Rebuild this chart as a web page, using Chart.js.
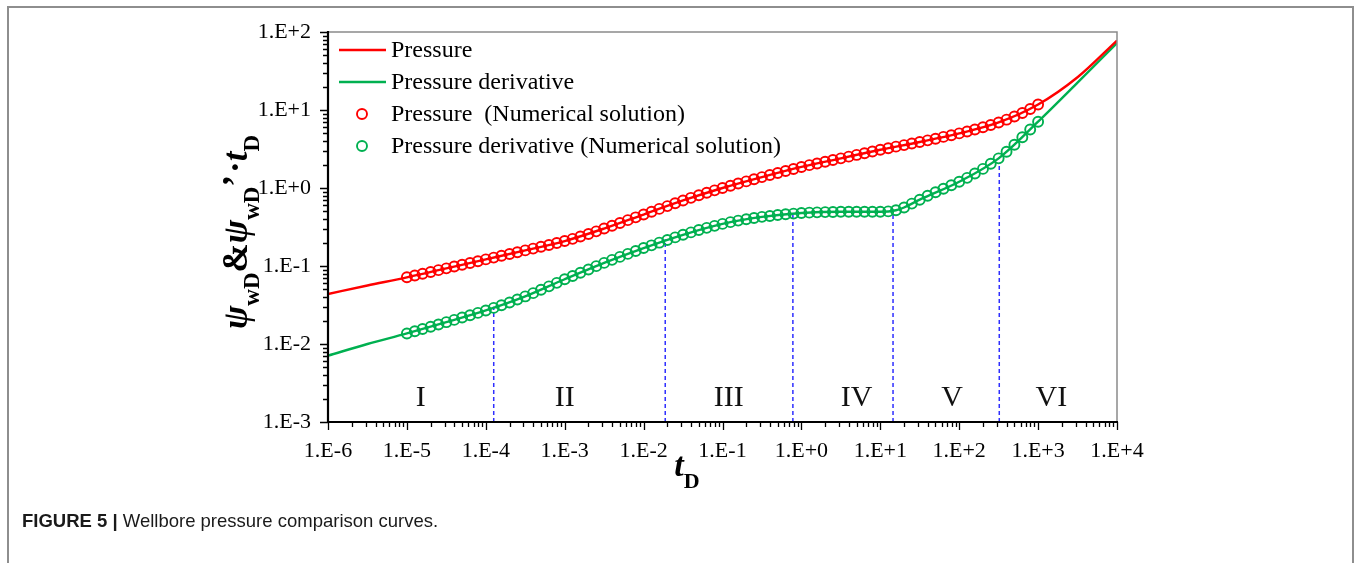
<!DOCTYPE html>
<html>
<head>
<meta charset="utf-8">
<script src="https://cdn.jsdelivr.net/npm/chart.js@4.4.1/dist/chart.umd.min.js"></script>
<style>
  html, body { margin: 0; padding: 0; background: #fff; }
  #wrap { position: relative; width: 1356px; height: 563px; overflow: hidden; background: #fff; }
  #frame { position: absolute; left: 7px; top: 6px; width: 1347px; height: 620px; border: 2px solid #8e8e8e; box-sizing: border-box; }
  canvas { position: absolute; left: 0; top: 0; }
</style>
</head>
<body>
<div id="wrap">
  <div id="frame"></div>
  <canvas id="chart" width="1356" height="563"></canvas>
</div>
<script>
// ---- axis ticks ----
const xTickValues = [1e-6, 1e-5, 1e-4, 1e-3, 1e-2, 1e-1, 1e0, 1e1, 1e2, 1e3, 1e4];
const xTickLabels = ['1.E-6', '1.E-5', '1.E-4', '1.E-3', '1.E-2', '1.E-1', '1.E+0', '1.E+1', '1.E+2', '1.E+3', '1.E+4'];
const yTickValues = [1e-3, 1e-2, 1e-1, 1e0, 1e1, 1e2];
const yTickLabels = ['1.E-3', '1.E-2', '1.E-1', '1.E+0', '1.E+1', '1.E+2'];
const minorSteps = [2, 3, 4, 5, 6, 7, 8, 9];

// ---- analytical solution (solid curves) ----
const tLineP = [1e-6, 3.16e-6, 1e-5, 3.16e-5, 1e-4, 3.16e-4, 1e-3, 3.16e-3, 1e-2, 3.16e-2,
                0.1, 0.316, 1, 3.16, 10, 31.6, 100, 316, 1000, 3160, 10000];
const pLine  = [0.0437, 0.0562, 0.0716, 0.0933, 0.1216, 0.1585, 0.2089, 0.3020, 0.4571, 0.6918,
                1.000, 1.380, 1.862, 2.399, 3.090, 3.890, 5.012, 6.918, 11.75, 26.3, 77.6];

const tLineD = [1e-6, 3.16e-6, 1e-5, 3.16e-5, 1e-4, 3.16e-4, 1e-3, 3.16e-3, 1e-2, 3.16e-2,
                0.1, 0.316, 1, 3.16, 10, 15.8, 20.0, 31.6, 100, 316, 1000, 3160, 10000];
const dLine  = [0.00708, 0.0100, 0.01365, 0.01905, 0.02692, 0.04074, 0.06761, 0.1096, 0.1698, 0.2512,
                0.3467, 0.4266, 0.4786, 0.4955, 0.4950, 0.5188, 0.5623, 0.7079, 1.202, 2.399, 7.079, 22.39, 72.4];

// ---- numerical solution (circles) ----
const tNum = [
  1.00e-5, 1.26e-5, 1.58e-5, 2.00e-5, 2.51e-5, 3.16e-5, 3.98e-5, 5.01e-5, 6.31e-5, 7.94e-5,
  1.00e-4, 1.26e-4, 1.58e-4, 2.00e-4, 2.51e-4, 3.16e-4, 3.98e-4, 5.01e-4, 6.31e-4, 7.94e-4,
  1.00e-3, 1.26e-3, 1.58e-3, 2.00e-3, 2.51e-3, 3.16e-3, 3.98e-3, 5.01e-3, 6.31e-3, 7.94e-3,
  1.00e-2, 1.26e-2, 1.58e-2, 2.00e-2, 2.51e-2, 3.16e-2, 3.98e-2, 5.01e-2, 6.31e-2, 7.94e-2,
  0.100, 0.126, 0.158, 0.200, 0.251, 0.316, 0.398, 0.501, 0.631, 0.794,
  1.00, 1.26, 1.58, 2.00, 2.51, 3.16, 3.98, 5.01, 6.31, 7.94,
  10.0, 12.6, 15.8, 20.0, 25.1, 31.6, 39.8, 50.1, 63.1, 79.4,
  100, 126, 158, 200, 251, 316, 398, 501, 631, 794,
  1000
];
const pNum = [
  0.0716, 0.0755, 0.0796, 0.0839, 0.0885, 0.0933, 0.0984, 0.1038, 0.1094, 0.1153,
  0.1216, 0.1282, 0.1352, 0.1426, 0.1503, 0.1585, 0.1671, 0.1762, 0.1862, 0.1968,
  0.2089, 0.2228, 0.2388, 0.2570, 0.2780, 0.3020, 0.3281, 0.3565, 0.3873, 0.4207,
  0.4571, 0.4966, 0.5395, 0.5861, 0.6368, 0.6918, 0.7482, 0.8072, 0.8690, 0.9333,
  1.000, 1.069, 1.140, 1.216, 1.297, 1.380, 1.466, 1.556, 1.652, 1.754,
  1.862, 1.963, 2.065, 2.173, 2.286, 2.399, 2.523, 2.655, 2.793, 2.938,
  3.090, 3.236, 3.388, 3.548, 3.715, 3.890, 4.083, 4.285, 4.519, 4.753,
  5.012, 5.297, 5.623, 5.998, 6.427, 6.918, 7.516, 8.241, 9.162, 10.30,
  11.75
];
const dNum = [
  0.01365, 0.01459, 0.01560, 0.01667, 0.01782, 0.01905, 0.02037, 0.02183, 0.02339, 0.02506,
  0.02692, 0.02904, 0.03141, 0.03412, 0.03724, 0.04074, 0.04487, 0.04955, 0.05483, 0.06081,
  0.06761, 0.07447, 0.08204, 0.09036, 0.09954, 0.1096, 0.1199, 0.1309, 0.1429, 0.1560,
  0.1698, 0.1841, 0.1991, 0.2153, 0.2328, 0.2512, 0.2698, 0.2891, 0.3083, 0.3273,
  0.3467, 0.3648, 0.3819, 0.3981, 0.4130, 0.4266, 0.4385, 0.4498, 0.4603, 0.4699,
  0.4786, 0.4831, 0.4875, 0.4909, 0.4932, 0.4955, 0.4960, 0.4958, 0.4952, 0.4950,
  0.4950, 0.5012, 0.5188, 0.5623, 0.6310, 0.7079, 0.7943, 0.8810, 0.9772, 1.084,
  1.202, 1.349, 1.531, 1.758, 2.042, 2.399, 2.917, 3.589, 4.467, 5.623,
  7.079
];

// ---- flow-regime boundaries and labels ----
const boundaryT   = [1.26e-4, 0.0188, 0.78, 14.5, 322];
const boundaryTop = [0.030, 0.22, 0.49, 0.49, 2.1];
const regimeNames = ['I', 'II', 'III', 'IV', 'V', 'VI'];
const regimeT     = [1.5e-5, 1.0e-3, 0.12, 5.0, 81, 1470];
const regimeY     = 0.00205;

const RED = '#ff0000';
const GREEN = '#00b050';
const BLUE = '#2f2fff';
const SERIF = '"Liberation Serif", "Times New Roman", serif';

const pts = (xs, ys) => xs.map((v, i) => ({ x: v, y: ys[i] }));

function logTicks(values) {
  const out = [];
  values.forEach((v, i) => {
    out.push({ value: v, major: true });
    if (i < values.length - 1) minorSteps.forEach(m => out.push({ value: v * m, major: false }));
  });
  return out;
}

const datasets = [
  { label: 'Pressure', data: pts(tLineP, pLine), borderColor: RED, borderWidth: 2.4,
    pointRadius: 0, cubicInterpolationMode: 'monotone', order: 5, legendType: 'line' },
  { label: 'Pressure derivative', data: pts(tLineD, dLine), borderColor: GREEN, borderWidth: 2.4,
    pointRadius: 0, cubicInterpolationMode: 'monotone', order: 5, legendType: 'line' },
  { label: 'Pressure  (Numerical solution)', data: pts(tNum, pNum), showLine: false,
    pointRadius: 5, pointBorderWidth: 1.9, pointBorderColor: RED, pointBackgroundColor: 'rgba(0,0,0,0)',
    borderColor: RED, order: 1, legendType: 'point' },
  { label: 'Pressure derivative (Numerical solution)', data: pts(tNum, dNum), showLine: false,
    pointRadius: 5, pointBorderWidth: 1.9, pointBorderColor: GREEN, pointBackgroundColor: 'rgba(0,0,0,0)',
    borderColor: GREEN, order: 2, legendType: 'point' }
];
boundaryT.forEach((t, i) => {
  datasets.push({ label: 'boundary' + i, data: [{ x: t, y: 1e-3 }, { x: t, y: boundaryTop[i] }],
    borderColor: BLUE, borderWidth: 1.5, borderDash: [4, 3], pointRadius: 0, order: 10 });
});

// Draws a run of text pieces (with sub-scripts) centred on (cx, baseline cy)
function drawRich(ctx, parts, cx, cy, rotate) {
  ctx.save();
  ctx.translate(cx, cy);
  if (rotate) ctx.rotate(-Math.PI / 2);
  ctx.textAlign = 'left';
  ctx.textBaseline = 'alphabetic';
  ctx.fillStyle = '#000';
  let total = 0;
  parts.forEach(p => { ctx.font = p.font; p.w = ctx.measureText(p.text).width + (p.gap || 0); total += p.w; });
  let x = -total / 2;
  parts.forEach(p => { ctx.font = p.font; ctx.fillText(p.text, x, p.dy || 0); x += p.w; });
  ctx.restore();
}

const decor = {
  id: 'decor',
  afterDraw(chart) {
    const { ctx, chartArea: a, scales: { x, y } } = chart;
    ctx.save();

    // top / right frame of the plot
    ctx.strokeStyle = '#8a8a8a';
    ctx.lineWidth = 1.5;
    ctx.beginPath();
    ctx.moveTo(a.left, a.top); ctx.lineTo(a.right, a.top); ctx.lineTo(a.right, a.bottom);
    ctx.stroke();

    // axis lines
    ctx.strokeStyle = '#000';
    ctx.lineWidth = 2.2;
    ctx.beginPath();
    ctx.moveTo(a.left, a.top - 1); ctx.lineTo(a.left, a.bottom); ctx.lineTo(a.right + 1, a.bottom);
    ctx.stroke();

    // tick marks (outside)
    ctx.lineWidth = 1.3;
    ctx.beginPath();
    x.ticks.forEach(t => {
      const px = Math.round(x.getPixelForValue(t.value)) + 0.5;
      ctx.moveTo(px, a.bottom); ctx.lineTo(px, a.bottom + (t.major ? 8 : 5));
    });
    y.ticks.forEach(t => {
      const py = Math.round(y.getPixelForValue(t.value)) + 0.5;
      ctx.moveTo(a.left, py); ctx.lineTo(a.left - (t.major ? 8 : 5), py);
    });
    ctx.stroke();

    // flow-regime labels
    ctx.fillStyle = '#111';
    ctx.font = '30px ' + SERIF;
    ctx.textAlign = 'center';
    ctx.textBaseline = 'middle';
    regimeNames.forEach((n, i) => {
      ctx.fillText(n, x.getPixelForValue(regimeT[i]), y.getPixelForValue(regimeY));
    });

    // legend
    const rowY0 = 50, rowStep = 32;
    let row = 0;
    chart.data.datasets.forEach(ds => {
      if (!ds.legendType) return;
      const cy = rowY0 + row * rowStep;
      if (ds.legendType === 'line') {
        ctx.strokeStyle = ds.borderColor; ctx.lineWidth = 2.4;
        ctx.beginPath(); ctx.moveTo(339, cy); ctx.lineTo(386, cy); ctx.stroke();
      } else {
        ctx.strokeStyle = ds.pointBorderColor; ctx.lineWidth = 1.9;
        ctx.beginPath(); ctx.arc(362, cy, 5, 0, Math.PI * 2); ctx.stroke();
      }
      ctx.fillStyle = '#000';
      ctx.font = '24px ' + SERIF;
      ctx.textAlign = 'left';
      ctx.textBaseline = 'middle';
      ctx.fillText(ds.label, 391, cy + 1);
      row++;
    });

    // axis titles
    const big = 'bold italic 35px ' + SERIF;
    const bigUp = 'bold 35px ' + SERIF;
    const sub = 'bold 23px ' + SERIF;
    drawRich(ctx, [
      { text: 'ψ', font: big },
      { text: 'wD', font: sub, dy: 12 },
      { text: '&', font: bigUp },
      { text: 'ψ', font: big },
      { text: 'wD', font: sub, dy: 12 },
      { text: '\u2019', font: bigUp, gap: 2 },
      { text: '·', font: bigUp },
      { text: 't', font: big },
      { text: 'D', font: sub, dy: 12 }
    ], 247, 232, true);

    drawRich(ctx, [
      { text: 't', font: 'bold italic 34px ' + SERIF },
      { text: 'D', font: 'bold 22px ' + SERIF, dy: 12 }
    ], 687, 476, false);

    // figure caption
    ctx.fillStyle = '#1a1a1a';
    ctx.textAlign = 'left';
    ctx.textBaseline = 'alphabetic';
    ctx.font = 'bold 18.5px "Liberation Sans", Arial, sans-serif';
    const head = 'FIGURE 5 |';
    ctx.fillText(head, 22, 527);
    const hw = ctx.measureText(head + ' ').width;
    ctx.font = '18.5px "Liberation Sans", Arial, sans-serif';
    ctx.fillText('Wellbore pressure comparison curves.', 22 + hw, 527);

    ctx.restore();
  }
};

const tickFont = { family: SERIF, size: 22 };

new Chart(document.getElementById('chart'), {
  type: 'line',
  data: { datasets },
  options: {
    responsive: false,
    animation: false,
    devicePixelRatio: 1,
    events: [],
    layout: { padding: { left: 0, right: 239, top: 32, bottom: 0 } },
    plugins: { legend: { display: false }, tooltip: { enabled: false } },
    scales: {
      x: {
        type: 'logarithmic', position: 'bottom', min: 1e-6, max: 1e4,
        afterBuildTicks: s => { s.ticks = logTicks(xTickValues); },
        afterFit: s => { s.height = 141; },
        grid: { display: false, drawTicks: false },
        border: { display: false },
        ticks: {
          autoSkip: false, maxRotation: 0, minRotation: 0, padding: 16, color: '#000', font: tickFont,
          callback: v => { const i = xTickValues.indexOf(v); return i >= 0 ? xTickLabels[i] : ''; }
        }
      },
      y: {
        type: 'logarithmic', position: 'left', min: 1e-3, max: 1e2,
        afterBuildTicks: s => { s.ticks = logTicks(yTickValues); },
        afterFit: s => { s.width = 328; },
        grid: { display: false, drawTicks: false },
        border: { display: false },
        ticks: {
          autoSkip: false, padding: 17, color: '#000', font: tickFont,
          callback: v => { const i = yTickValues.indexOf(v); return i >= 0 ? yTickLabels[i] : ''; }
        }
      }
    }
  },
  plugins: [decor]
});
</script>
</body>
</html>
